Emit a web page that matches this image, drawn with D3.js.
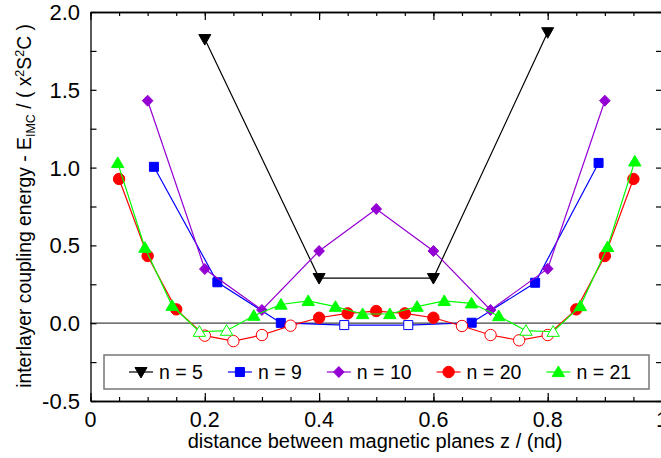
<!DOCTYPE html>
<html>
<head>
<meta charset="utf-8">
<script src="https://cdn.jsdelivr.net/npm/d3@7"></script>
<style>
  html, body { margin: 0; padding: 0; background: #fff; }
  svg { display: block; }
  text { font-family: "Liberation Sans", Arial, sans-serif; fill: #000; }
</style>
</head>
<body>
<svg id="chart" width="661" height="458"></svg>
<script>
// ---- data ----
const seriesNames = ["n = 5", "n = 9", "n = 10", "n = 20", "n = 21"];
const z5  = [0.2, 0.4, 0.6, 0.8];
const e5  = [1.826, 0.29, 0.29, 1.87];
const z9  = [0.111, 0.222, 0.333, 0.444, 0.556, 0.667, 0.778, 0.889];
const e9  = [1.005, 0.263, 0.002, -0.012, -0.012, 0.003, 0.26, 1.03];
const z10 = [0.1, 0.2, 0.3, 0.4, 0.5, 0.6, 0.7, 0.8, 0.9];
const e10 = [1.43, 0.348, 0.085, 0.464, 0.734, 0.464, 0.085, 0.35, 1.43];
const z20 = [0.05, 0.1, 0.15, 0.2, 0.25, 0.3, 0.35, 0.4, 0.45, 0.5, 0.55, 0.6, 0.65, 0.7, 0.75, 0.8, 0.85, 0.9, 0.95];
const e20 = [0.927, 0.432, 0.089, -0.08, -0.115, -0.076, -0.016, 0.035, 0.063, 0.078, 0.063, 0.035, -0.018, -0.076, -0.11, -0.076, 0.089, 0.432, 0.927];
const z21 = [0.0476, 0.0952, 0.1429, 0.1905, 0.2381, 0.2857, 0.3333, 0.381, 0.4286, 0.4762, 0.5238, 0.5714, 0.619, 0.6667, 0.7143, 0.7619, 0.8095, 0.8571, 0.9048, 0.9524];
const e21 = [1.03, 0.485, 0.112, -0.055, -0.048, 0.048, 0.12, 0.143, 0.106, 0.059, 0.059, 0.106, 0.143, 0.128, 0.046, -0.048, -0.055, 0.11, 0.49, 1.04];
const xTickLabels = ["0", "0.2", "0.4", "0.6", "0.8", "1"];
const yTickLabels = ["-0.5", "0.0", "0.5", "1.0", "1.5", "2.0"];
const xTickValues = [0, 0.2, 0.4, 0.6, 0.8, 1];
const yTickValues = [-0.5, 0, 0.5, 1, 1.5, 2];

// ---- style ----
const colors  = ["#000000", "#0000ff", "#9400d3", "#ff0000", "#00ff00"];
const symbols = ["tridown", "square", "diamond", "circle", "triup"];

const svg = d3.select("#chart");
const L = 90.5, R = 662, T = 12, B = 401;
const x = d3.scaleLinear().domain([0, 1]).range([L, R]);
const y = d3.scaleLinear().domain([-0.5, 2]).range([B, T]);

function markerPath(sym) {
  switch (sym) {
    case "tridown": return "M-6,-4.5L6,-4.5L0,6Z";
    case "triup":   return "M-6.2,4.6L6.2,4.6L0,-6Z";
    case "square":  return "M-4.5,-4.5H4.5V4.5H-4.5Z";
    case "diamond": return "M0,-5.5L5.3,0L0,5.5L-5.3,0Z";
    case "circle":  return d3.symbol(d3.symbolCircle, Math.PI * 5.7 * 5.7)();
  }
}

// zero line
svg.append("line")
  .attr("x1", L).attr("x2", R).attr("y1", y(0)).attr("y2", y(0))
  .attr("stroke", "#444").attr("stroke-width", 1.3);

// axes frame with inward ticks
const g = svg.append("g");
const minorX = d3.range(0, 1.0001, 0.05);
const minorY = d3.range(-0.5, 2.0001, 0.25);
function styleAxis(sel) {
  sel.selectAll("text").remove();
  sel.select(".domain").attr("stroke", "#000").attr("stroke-width", 1.3);
  sel.selectAll(".tick line").attr("stroke", "#000").attr("stroke-width", 1.2);
}
g.append("g").attr("transform", `translate(0,${B})`)
  .call(d3.axisBottom(x).tickValues(minorX).tickSize(-4).tickSizeOuter(0)).call(styleAxis);
g.append("g").attr("transform", `translate(0,${B})`)
  .call(d3.axisBottom(x).tickValues(xTickValues).tickSize(-8).tickSizeOuter(0)).call(styleAxis);
g.append("g").attr("transform", `translate(0,${T})`)
  .call(d3.axisTop(x).tickValues(minorX).tickSize(-4).tickSizeOuter(0)).call(styleAxis);
g.append("g").attr("transform", `translate(0,${T})`)
  .call(d3.axisTop(x).tickValues(xTickValues).tickSize(-8).tickSizeOuter(0)).call(styleAxis);
g.append("g").attr("transform", `translate(${L},0)`)
  .call(d3.axisLeft(y).tickValues(minorY).tickSize(-6).tickSizeOuter(0)).call(styleAxis);
g.append("g").attr("transform", `translate(${R},0)`)
  .call(d3.axisRight(y).tickValues(minorY).tickSize(-6).tickSizeOuter(0)).call(styleAxis);

// tick labels
svg.append("g").selectAll("text").data(xTickValues).join("text")
  .attr("x", d => x(d)).attr("y", 427).attr("text-anchor", "middle")
  .attr("font-size", 21.5).text((d, i) => xTickLabels[i]);
svg.append("g").selectAll("text").data(yTickValues).join("text")
  .attr("x", 80).attr("y", d => y(d)).attr("dy", "0.36em").attr("text-anchor", "end")
  .attr("font-size", 22).text((d, i) => yTickLabels[i]);

// axis titles
svg.append("text").attr("x", 375).attr("y", 448).attr("text-anchor", "middle")
  .attr("font-size", 20).text("distance between magnetic planes z / (nd)");
const yt = svg.append("text").attr("transform", "translate(31,206) rotate(-90)")
  .attr("text-anchor", "middle").attr("font-size", 19.3);
yt.append("tspan").text("interlayer coupling energy  - E");
yt.append("tspan").attr("font-size", 12.5).attr("dy", 4).text("IMC");
yt.append("tspan").attr("dy", -4).text(" / ( x");
yt.append("tspan").attr("font-size", 12.5).attr("dy", -7).text("2");
yt.append("tspan").attr("dy", 7).text("S");
yt.append("tspan").attr("font-size", 12.5).attr("dy", -7).text("2");
yt.append("tspan").attr("dy", 7).text("C )");

// series
const allZ = [z5, z9, z10, z20, z21];
const allE = [e5, e9, e10, e20, e21];
const line = d3.line().x(d => x(d[0])).y(d => y(d[1]));
allZ.forEach((zs, i) => {
  const pts = zs.map((z, k) => [z, allE[i][k]]);
  const sg = svg.append("g");
  sg.append("path").datum(pts).attr("d", line)
    .attr("fill", "none").attr("stroke", colors[i]).attr("stroke-width", 1.2);
  sg.selectAll("path.m").data(pts).join("path").attr("class", "m")
    .attr("transform", d => `translate(${x(d[0])},${y(d[1])})`)
    .attr("d", markerPath(symbols[i]))
    .attr("fill", d => d[1] < 0 ? "#fff" : colors[i])
    .attr("stroke", colors[i]).attr("stroke-width", 1);
});

// legend
const lg = svg.append("g");
lg.append("rect").attr("x", 104).attr("y", 355).attr("width", 545).attr("height", 34)
  .attr("fill", "#fff").attr("stroke", "#777").attr("stroke-width", 1.5);
let cx = 129;
const ly = 372;
seriesNames.forEach((name, i) => {
  lg.append("line").attr("x1", cx).attr("x2", cx + 24).attr("y1", ly).attr("y2", ly)
    .attr("stroke", colors[i]).attr("stroke-width", 1.2);
  lg.append("path").attr("transform", `translate(${cx + 12},${ly})`)
    .attr("d", markerPath(symbols[i])).attr("fill", colors[i]).attr("stroke", colors[i]).attr("stroke-width", 1);
  const t = lg.append("text").attr("x", cx + 30).attr("y", ly).attr("dy", "0.36em")
    .attr("font-size", 19.5).text(name);
  cx = cx + 30 + t.node().getComputedTextLength() + 25;
});
</script>
</body>
</html>
